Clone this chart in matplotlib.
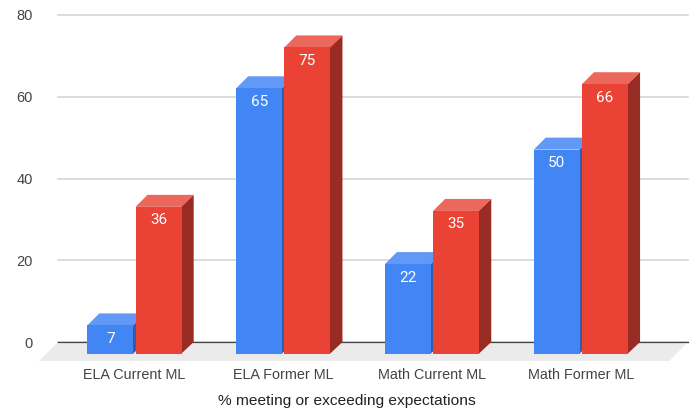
import matplotlib.pyplot as plt
from matplotlib.patches import Polygon

categories = ["ELA Current ML", "ELA Former ML", "Math Current ML", "Math Former ML"]
blue_values = [7, 65, 22, 50]
red_values = [36, 75, 35, 66]
y_ticks = [0, 20, 40, 60, 80]

plt.rcParams["font.family"] = ["Liberation Sans", "DejaVu Sans"]

# depth of the fake 3d effect, in data units (12 px each way)
PX_X = 148.8
PX_Y = 4.0875
DX = 12 / PX_X
DY = 12 / PX_Y
BAR_W = 0.31
OFFSET = 0.162


def bar_3d(ax, x, value, front, top, side):
    left = x - BAR_W / 2
    right = x + BAR_W / 2
    low = -DY
    high = value - DY
    ax.add_patch(Polygon([(right - 0.005, low), (right + DX, 0), (right + DX, value), (right - 0.005, high)],
                         facecolor=side, edgecolor="none", clip_on=False, zorder=4))
    ax.add_patch(Polygon([(left, high), (left + DX, value), (right + DX, value), (right, high)],
                         facecolor=top, edgecolor="none", clip_on=False, zorder=4))
    ax.bar(x, value, width=BAR_W, bottom=low, color=front, clip_on=False, zorder=4)
    ax.text(x, high - 13.5 / PX_Y, str(value), color="white", fontsize=11, family="Roboto",
            ha="center", va="center", zorder=5)


fig = plt.figure(figsize=(6.94, 4.12), dpi=100)
ax = fig.add_axes([58 / 694, 70 / 412, 630 / 694, 327 / 412])
ax.set_xlim(-0.5141, 3.7198)
ax.set_ylim(0, 80)

for spine in ["top", "left", "right"]:
    ax.spines[spine].set_visible(False)
ax.spines["bottom"].set_color("#444444")
ax.spines["bottom"].set_linewidth(0.9)
ax.spines["bottom"].set_zorder(3)

ax.set_yticks(y_ticks)
ax.set_xticks(range(len(categories)))
ax.set_xticklabels(categories)
ax.tick_params(axis="y", length=0, pad=18, labelsize=10.5, labelcolor="#444444")
ax.tick_params(axis="x", length=0, pad=19, labelsize=10.4, labelcolor="#444444")
ax.grid(axis="y", color="#d6d6d6", linewidth=1.2, clip_on=False)
ax.set_axisbelow(True)

# floor
x0, x1 = ax.get_xlim()
floor_dx = 19 / PX_X
ax.add_patch(Polygon([(x0, 0), (x1, 0), (x1 - floor_dx, -19 / PX_Y), (x0 - floor_dx, -19 / PX_Y)],
                     facecolor="#ebebeb", edgecolor="none", clip_on=False, zorder=2))

for i in range(len(categories)):
    bar_3d(ax, i - OFFSET, blue_values[i], "#4285f4", "#6399f6", "#2e5dab")
    bar_3d(ax, i + OFFSET, red_values[i], "#ea4335", "#ec675c", "#982b23")

fig.text(347 / 694, 1 - 401.5 / 412, "% meeting or exceeding expectations", fontsize=11.15,
         color="#222222", ha="center", va="center")

fig.savefig("out.png", dpi=100)
